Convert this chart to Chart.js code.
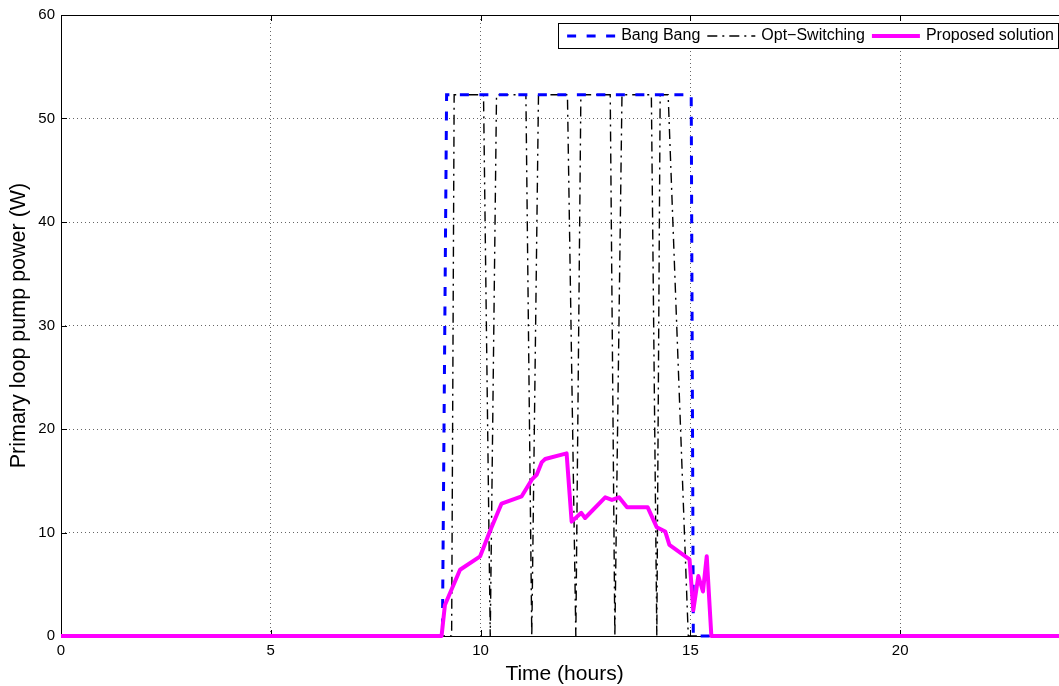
<!DOCTYPE html>
<html>
<head>
<meta charset="utf-8">
<script src="https://cdn.jsdelivr.net/npm/chart.js@4.4.1/dist/chart.umd.min.js"></script>
<style>
  html, body { margin: 0; padding: 0; background: #fff; overflow: hidden; }
  #wrap { width: 1059px; height: 686px; overflow: hidden; }
  canvas { display: block; }
</style>
</head>
<body>
<div id="wrap"><canvas id="pump" width="1070" height="686"></canvas></div>
<script>
// Primary loop pump power over one day (hours vs W)

// Bang Bang controller
const bangTime  = [0, 9.09, 9.19, 15.02, 15.07, 24];
const bangPower = [0, 0, 52.3, 52.3, 0, 0];

// Opt-Switching controller
const optTime  = [0, 9.31, 9.37, 10.07, 10.23, 10.38, 11.08, 11.22, 11.38, 12.07, 12.27,
                  12.39, 13.09, 13.2, 13.37, 14.07, 14.2, 14.28, 14.47, 14.95, 24];
const optPower = [0, 0, 52.3, 52.3, 0, 52.3, 52.3, 0, 52.3, 52.3, 0,
                  52.3, 52.3, 0, 52.3, 52.3, 0, 52.3, 52.3, 0, 0];

// Proposed solution
const propTime  = [0, 9.07, 9.15, 9.51, 9.99, 10.23, 10.5, 10.98, 11.22, 11.34, 11.46, 11.54,
                   12.05, 12.17, 12.4, 12.49, 12.97, 13.13, 13.3, 13.49, 13.98, 14.2, 14.4,
                   14.5, 14.98, 15.07, 15.19, 15.3, 15.39, 15.5, 24];
const propPower = [0, 0, 3.0, 6.4, 7.7, 10.2, 12.8, 13.5, 15.1, 15.6, 16.8, 17.1,
                   17.65, 11.05, 11.9, 11.4, 13.4, 13.15, 13.4, 12.45, 12.45, 10.5, 10.1,
                   8.8, 7.4, 2.5, 5.8, 4.3, 7.7, 0, 0];

const xTicks = [0, 5, 10, 15, 20];
const yTicks = [0, 10, 20, 30, 40, 50, 60];

const FONT = "'Liberation Sans', Arial, Helvetica, sans-serif";
const pts = (xs, ys) => xs.map((x, i) => ({ x, y: ys[i] }));

// box round the axes, with inward tick marks
const frame = {
  id: 'frame',
  beforeDatasetsDraw(chart) {
    const { ctx, chartArea: a, scales: { x, y } } = chart;
    ctx.save();
    ctx.strokeStyle = '#000';
    ctx.lineWidth = 1;
    ctx.setLineDash([]);
    ctx.strokeRect(Math.round(a.left) + 0.5, Math.round(a.top) + 0.5,
                   Math.round(a.right - a.left), Math.round(a.bottom - a.top));
    ctx.beginPath();
    x.ticks.forEach(t => {
      const px = Math.round(x.getPixelForValue(t.value)) + 0.5;
      ctx.moveTo(px, a.bottom); ctx.lineTo(px, a.bottom - 6);
      ctx.moveTo(px, a.top); ctx.lineTo(px, a.top + 6);
    });
    y.ticks.forEach(t => {
      const py = Math.round(y.getPixelForValue(t.value)) + 0.5;
      ctx.moveTo(a.left, py); ctx.lineTo(a.left + 6, py);
      ctx.moveTo(a.right, py); ctx.lineTo(a.right - 6, py);
    });
    ctx.stroke();
    ctx.restore();
  }
};

// boxed legend in the top right corner of the axes
const boxLegend = {
  id: 'boxLegend',
  afterDraw(chart) {
    const { ctx } = chart;
    const order = [0, 1, 2];
    const sample = 48, gap = 7, right = 1058, top = 23, h = 25;
    ctx.save();
    ctx.font = '16px ' + FONT;
    const widths = order.map(i => ctx.measureText(chart.data.datasets[i].label).width);
    const w = 9 + widths.reduce((s, tw) => s + sample + 6 + tw, 0) + 2 * gap + 4;
    const left = right - w;
    ctx.fillStyle = '#fff';
    ctx.fillRect(left, top, w, h);
    ctx.strokeStyle = '#000';
    ctx.lineWidth = 1;
    ctx.setLineDash([]);
    ctx.strokeRect(Math.round(left) + 0.5, top + 0.5, Math.round(w), h);
    const cy = top + h / 2 + 0.5;
    let cx = left + 9;
    order.forEach((i, k) => {
      const ds = chart.data.datasets[i];
      ctx.beginPath();
      ctx.strokeStyle = ds.borderColor;
      ctx.lineWidth = ds.borderWidth;
      ctx.setLineDash(ds.borderDash || []);
      ctx.moveTo(cx, cy);
      ctx.lineTo(cx + sample, cy);
      ctx.stroke();
      ctx.setLineDash([]);
      ctx.fillStyle = '#000';
      ctx.textBaseline = 'middle';
      ctx.fillText(ds.label, cx + sample + 6, cy);
      cx += sample + 6 + widths[k] + gap;
    });
    ctx.restore();
  }
};

new Chart(document.getElementById('pump'), {
  type: 'scatter',
  data: {
    datasets: [
      {
        label: 'Bang Bang',
        data: pts(bangTime, bangPower),
        showLine: true,
        borderColor: '#0000ff',
        borderWidth: 3,
        borderDash: [9, 10.5],
        pointRadius: 0,
        order: 1,
      },
      {
        label: 'Opt\u2212Switching',
        data: pts(optTime, optPower),
        showLine: true,
        borderColor: '#000000',
        borderWidth: 1.4,
        borderDash: [10, 5, 2, 5],
        pointRadius: 0,
        order: 2,
      },
      {
        label: 'Proposed solution',
        data: pts(propTime, propPower),
        showLine: true,
        borderColor: '#ff00ff',
        borderWidth: 4,
        borderJoinStyle: 'round',
        pointRadius: 0,
        order: 0,
      },
    ],
  },
  options: {
    responsive: false,
    animation: false,
    clip: 6,
    layout: { padding: { top: 15, right: 2, left: 0, bottom: 0 } },
    plugins: { legend: { display: false }, tooltip: { enabled: false } },
    scales: {
      x: {
        type: 'linear',
        min: 0,
        max: 24,
        afterBuildTicks: s => { s.ticks = xTicks.map(v => ({ value: v })); },
        afterFit: s => { s.height = 50; },
        grid: { color: 'rgba(0,0,0,0.6)', drawTicks: false },
        border: { display: false, dash: [1, 3] },
        ticks: { color: '#000', padding: 6, font: { family: FONT, size: 15 }, maxRotation: 0 },
        title: { display: true, text: 'Time (hours)', color: '#000',
                 font: { family: FONT, size: 21 }, padding: { top: 0, bottom: -1 } },
      },
      y: {
        min: 0,
        max: 60,
        afterBuildTicks: s => { s.ticks = yTicks.map(v => ({ value: v })); },
        afterFit: s => { s.width = 61; },
        grid: { color: 'rgba(0,0,0,0.6)', drawTicks: false },
        border: { display: false, dash: [1, 3] },
        ticks: { color: '#000', padding: 6, font: { family: FONT, size: 15 } },
        title: { display: true, text: 'Primary loop pump power (W)', color: '#000',
                 font: { family: FONT, size: 21.5 }, padding: { top: 6, bottom: 0 } },
      },
    },
  },
  plugins: [frame, boxLegend],
});
</script>
</body>
</html>
